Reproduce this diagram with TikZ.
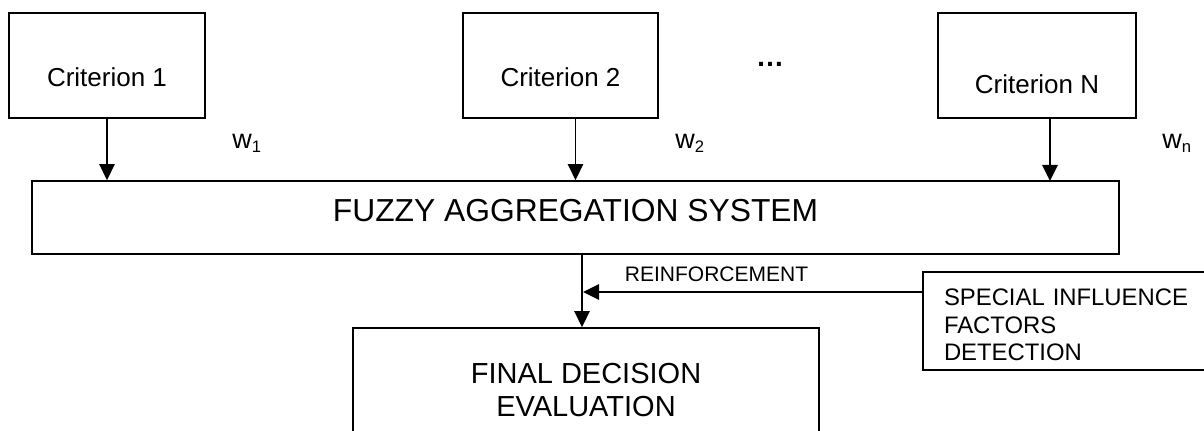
\documentclass[tikz,border=0pt]{standalone}
\usepackage{fontspec}
\setmainfont{Liberation Sans}
\usetikzlibrary{arrows.meta}
\newcommand{\sub}[1]{\raisebox{-3pt}{\fontsize{12.5}{13}\selectfont #1}}
\begin{document}
\begin{tikzpicture}[x=0.75pt, y=-0.75pt,
  box/.style={draw, line width=1.3pt, inner sep=0pt},
  crit/.style={box, minimum height=105*0.75pt, font=\fontsize{19.5}{22}\selectfont},
  arr/.style={line width=1.3pt, -{Triangle[length=12pt, width=11.5pt]}},
  weight/.style={anchor=base west, inner sep=0pt, font=\fontsize{20.25}{24}\selectfont}]
\clip (0,0) rectangle (1204,431);

% criteria
\node[crit, minimum width=196*0.75pt, text height=32.25pt] (c1) at (107,65.5) {Criterion 1};
\node[crit, minimum width=195*0.75pt, text height=32.25pt] (c2) at (560.5,65.5) {Criterion 2};
\node[crit, minimum width=198*0.75pt, text height=42.75pt] (cn) at (1037,65.5) {Criterion N};
\node[font=\bfseries\fontsize{21}{24}\selectfont, inner sep=0pt] (dots) at (770,64.5) {…};

% aggregation block
\node[box, minimum width=1087*0.75pt, minimum height=73*0.75pt, text depth=10.5pt,
      font=\fontsize{23.85}{28}\selectfont] (fas) at (575.5,217.5) {FUZZY AGGREGATION SYSTEM};

% weights
\node[weight] (w1) at (232,149) {w\sub{1}};
\node[weight] (w2) at (675,149) {w\sub{2}};
\node[weight] (wn) at (1162,149) {w\sub{n}};

% criterion inputs
\coordinate (inN) at (1050,181);
\draw[arr] (c1) -- (c1 |- fas.north);
\draw[arr] (fas.north |- c2.south) -- (fas.north);
\draw[arr] (inN |- cn.south) -- (inN);

% decision block
\node[box, minimum width=466*0.75pt, minimum height=125*0.75pt, align=center,
      font=\fontsize{21.75}{24.75}\selectfont] (fin) at (586,390.5) {FINAL DECISION\\EVALUATION};

% special factors block (runs past the right edge)
\node[box, text width=299*0.75pt, inner xsep=21*0.75pt, minimum height=98*0.75pt,
      align=left, text height=18.8pt,
      font=\fontsize{17.9}{20.6}\selectfont] (sif) at (1093.5,321)
      {SPECIAL INFLUENCE\\FACTORS\\DETECTION};

% output and reinforcement
\coordinate (mid) at (582,0);
\coordinate (rf) at (583,292);
\draw[arr] (mid |- fas.south) -- (mid |- fin.north);
\draw[arr] (rf -| sif.west) -- (rf);
\node[font=\fontsize{15.75}{18}\selectfont, inner sep=0pt] (rlab) at (716.5,274.5) {REINFORCEMENT};
\end{tikzpicture}
\end{document}
